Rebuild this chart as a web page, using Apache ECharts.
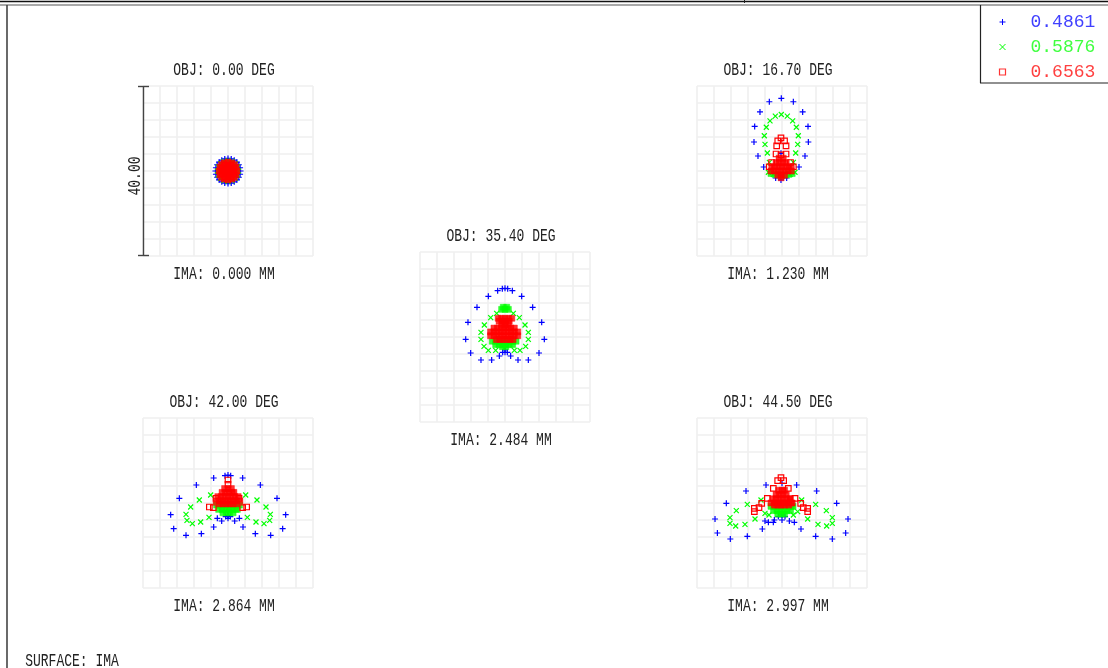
<!DOCTYPE html>
<html><head><meta charset="utf-8">
<style>html,body{margin:0;padding:0;background:#fff}#c{width:1108px;height:668px}</style>
<script src="https://cdn.jsdelivr.net/npm/echarts@6/dist/echarts.min.js"></script>
</head><body><div id="c"></div>
<script>
const wavelengths=['0.4861','0.5876','0.6563'];
const objLabels=['OBJ: 0.00 DEG','OBJ: 16.70 DEG','OBJ: 35.40 DEG','OBJ: 42.00 DEG','OBJ: 44.50 DEG'];
const imaLabels=['IMA: 0.000 MM','IMA: 1.230 MM','IMA: 2.484 MM','IMA: 2.864 MM','IMA: 2.997 MM'];
const scaleLabel='40.00', surfaceLabel='SURFACE: IMA';

const blue0=[[2.95,0],[2.85,.76],[2.55,1.47],[2.08,2.08],[1.47,2.55],[.76,2.85],[0,2.95],[-.76,2.85],[-1.47,2.55],[-2.08,2.08],[-2.55,1.47],[-2.85,.76],[-2.95,0],[-2.85,-.76],[-2.55,-1.47],[-2.08,-2.08],[-1.47,-2.55],[-.76,-2.85],[0,-2.95],[.76,-2.85],[1.47,-2.55],[2.08,-2.08],[2.55,-1.47],[2.85,-.76]];
const green0=[[2.45,0],[2.26,.94],[1.73,1.73],[.94,2.26],[0,2.45],[-.94,2.26],[-1.73,1.73],[-2.26,.94],[-2.45,0],[-2.26,-.94],[-1.73,-1.73],[-.94,-2.26],[0,-2.45],[.94,-2.26],[1.73,-1.73],[2.26,-.94]];
const red0=[];
const greenDense0=[];
const redDense0=[[0,0],[.7,0],[-.7,0],[0,.7],[0,-.7],[.7,.7],[-.7,.7],[.7,-.7],[-.7,-.7],[1.4,0],[-1.4,0],[0,1.4],[0,-1.4],[1.4,.7],[-1.4,.7],[1.4,-.7],[-1.4,-.7],[.7,1.4],[-.7,1.4],[.7,-1.4],[-.7,-1.4],[2.1,0],[-2.1,0],[0,2.1],[0,-2.1],[1.9,.9],[-1.9,.9],[1.9,-.9],[-1.9,-.9],[.9,1.9],[-.9,1.9],[.9,-1.9],[-.9,-1.9],[1.5,1.5],[-1.5,1.5],[1.5,-1.5],[-1.5,-1.5]];

const blue1=[[-2.98,16.3],[-.16,17.1],[2.67,16.3],[-5.18,13.9],[4.86,13.9],[-6.43,10.5],[6.12,10.5],[-6.59,6.82],[6.2,6.82],[-5.65,3.53],[5.41,3.53],[-4.31,.94],[4,.94],[-.24,4.16],[-.24,-2.1],[-1.49,-1.65],[1.1,-1.65]];
const green1=[[-.16,13.3],[-1.57,12.9],[1.25,12.9],[-2.82,11.8],[2.51,11.8],[-3.69,10.3],[3.37,10.3],[-4.16,8.3],[3.84,8.3],[-4,6.27],[3.69,6.27],[-3.45,4.24],[3.22,4.24],[-2.98,2.04],[2.67,2.04],[-3.2,-.3],[3.06,-.3],[-2.04,-.78],[1.88,-.78],[-.16,-1.1]];
const greenDense1=[[-2.6,-.6],[-1.6,-.8],[-.8,-.9],[0,-1],[.8,-.9],[1.6,-.8],[2.4,-.6]];
const red1=[[-.24,7.8],[-1,7.1],[.6,7.1],[-1.25,5.9],[.95,5.9],[-1.4,4],[.95,4],[-.24,3.8],[-2.45,2],[2,2],[-3,1],[2.67,1]];
const redDense1=[[-2.4,1],[-1.6,1],[-.8,1],[0,1],[.8,1],[1.6,1],[2.2,1],[-2.6,0],[-1.8,0],[-1,0],[-.2,0],[.6,0],[1.4,0],[2.2,0],[-1,-1],[-.2,-1],[.6,-1],[-.2,-1.6],[-1.4,2],[-.6,2],[.2,2],[1,2],[-.7,3],[.3,3]];

const blue2=[[0,11.45],[-.63,11.37],[.63,11.37],[-1.73,10.9],[1.73,10.9],[-3.92,9.57],[3.92,9.57],[-6.59,6.98],[6.51,6.98],[-8.71,3.45],[8.63,3.45],[-9.25,-.55],[9.25,-.55],[-8.08,-3.76],[8,-3.76],[-5.65,-5.41],[-3.14,-5.41],[3.06,-5.41],[5.49,-5.41],[-1.33,-4.47],[1.33,-4.47],[0,-2.27],[0,-3.06],[-.55,-3.6],[.55,-3.6],[0,-3.6]];
const green2=[[-1.96,5.57],[1.96,5.57],[-3.37,4.55],[3.37,4.55],[-4.86,2.82],[4.71,2.82],[-5.65,1.1],[5.49,1.1],[-5.65,-.55],[5.49,-.55],[-4.94,-2.2],[4.86,-2.2],[-3.92,-3.14],[-2.2,-3.14],[2.2,-3.14],[3.53,-3.14]];
const greenDense2=[[-.8,6.5],[0,6.5],[.8,6.5],[-.4,7],[.4,7],[-3,-1],[-2.2,-1],[-1.4,-1],[-.6,-1],[.2,-1],[1,-1],[1.8,-1],[2.6,-1],[-2.2,-1.8],[-1.4,-1.8],[-.6,-1.8],[.2,-1.8],[1,-1.8],[1.8,-1.8],[-.6,-2.3],[.2,-2.3]];
const red2=[];
const redDense2=[[-1.6,4.4],[-.8,4.4],[0,4.4],[.8,4.4],[1.6,4.4],[-1.4,3.7],[-.6,3.7],[.2,3.7],[1,3.7],[-.8,2.9],[0,2.9],[.8,2.9],[-2.6,2.1],[-1.8,2.1],[-1,2.1],[-.2,2.1],[.6,2.1],[1.4,2.1],[2.2,2.1],[-3.4,1.2],[-2.6,1.2],[-1.8,1.2],[-1,1.2],[-.2,1.2],[.6,1.2],[1.4,1.2],[2.2,1.2],[3,1.2],[-3.4,.3],[-2.6,.3],[-1.8,.3],[-1,.3],[-.2,.3],[.6,.3],[1.4,.3],[2.2,.3],[3,.3],[-2,-.6],[-1.2,-.6],[-.4,-.6],[.4,-.6],[1.2,-.6],[1.9,-.6]];

const blue3=[[0,6.59],[-.71,6.43],[.63,6.43],[-3.37,5.88],[3.45,5.88],[-7.45,4.24],[7.61,4.24],[-11.45,1.1],[11.53,1.1],[-13.49,-2.75],[13.57,-2.75],[-12.78,-6.04],[12.86,-6.04],[-9.88,-7.61],[-6.27,-7.22],[6.43,-7.22],[10.04,-7.61],[-3.37,-5.65],[3.53,-5.65],[-2.51,-3.61],[-1.49,-4.24],[0,-2.98],[1.57,-4.24],[2.67,-3.61],[0,-3.6],[-.55,-3.2],[.55,-3.2]];
const green3=[[-6.75,.71],[-4.08,1.88],[4.16,1.88],[6.82,.71],[-8.78,-.94],[8.94,-.94],[-9.88,-2.67],[9.96,-2.67],[-9.65,-4.08],[9.8,-4.08],[-8.39,-4.86],[8.47,-4.86],[-6.43,-4.47],[6.59,-4.47],[-4.47,-3.37],[4.55,-3.37]];
const greenDense3=[[-2.7,-.5],[-1.9,-.5],[-1.1,-.5],[-.3,-.5],[.5,-.5],[1.3,-.5],[2.1,-.5],[2.7,-.5],[-2.2,-1.5],[-1.4,-1.5],[-.6,-1.5],[.2,-1.5],[1,-1.5],[1.8,-1.5],[2.2,-1.5],[-1.2,-2.3],[-.4,-2.3],[.4,-2.3],[1.2,-2.3]];
const red3=[[0,5.41],[0,4.39],[-4.39,-.94],[-3.45,-1.1],[4.39,-.94],[3.45,-1.1],[2.59,1.1],[-2.82,1.1]];
const redDense3=[[-.8,3.4],[0,3.4],[.8,3.4],[-1.4,2.5],[-.6,2.5],[.2,2.5],[1,2.5],[1.4,2.5],[-2.4,1.5],[-1.6,1.5],[-.8,1.5],[0,1.5],[.8,1.5],[1.6,1.5],[2.4,1.5],[-2.8,.5],[-2,.5],[-1.2,.5],[-.4,.5],[.4,.5],[1.2,.5],[2,.5],[2.8,.5],[-2,-.2],[-1.2,-.2],[-.4,-.2],[.4,-.2],[1.2,-.2],[2,-.2]];

const blue4=[[-3.76,4.24],[3.45,4.24],[0,4.63],[-8.47,2.82],[8.16,2.82],[-13.1,-.08],[12.86,-.08],[-15.76,-3.76],[15.53,-3.76],[-15.2,-7.06],[14.98,-7.06],[-12.16,-8.47],[-8.16,-7.84],[7.92,-7.84],[11.84,-8.47],[-4.63,-6.12],[4.47,-6.12],[-4,-4.24],[-3.2,-4.55],[-2.04,-4.55],[-1.8,-4],[1.73,-4.24],[2.9,-4.55],[0,-2.82],[-.86,-3.2],[.71,-3.2],[0,-4]];
const green4=[[-8.16,-.31],[7.92,-.31],[-4.94,.71],[4.63,.71],[-10.75,-1.8],[10.43,-1.8],[-12.24,-3.45],[11.84,-3.45],[-12.24,-4.78],[11.84,-4.78],[-10.9,-5.41],[10.51,-5.41],[-8.71,-5.02],[8.47,-5.02],[-6.35,-3.76],[6.04,-3.76],[-4,-2.43],[-3.06,-2.82],[2.67,-2.82],[3.69,-2.04]];
const greenDense4=[[-2.6,-.8],[-1.8,-.8],[-1,-.8],[-.2,-.8],[.6,-.8],[1.4,-.8],[2.2,-.8],[2.6,-.8],[-2,-1.8],[-1.2,-1.8],[-.4,-1.8],[.4,-1.8],[1.2,-1.8],[2,-1.8],[-1,-2.6],[-.2,-2.6],[.6,-2.6]];
const red4=[[-.24,5.96],[-1.02,5.25],[.39,5.25],[-2.04,3.45],[1.49,3.45],[-3.45,1.1],[3.06,1.1],[-4.78,-.08],[4.39,-.08],[-5.41,-1.1],[5.02,-1.1],[-6.51,-1.25],[6.04,-1.25],[-6.51,-2.04],[6.04,-2.04]];
const redDense4=[[-.8,3],[0,3],[.6,3],[-1.4,2],[-.6,2],[.2,2],[1,2],[-2.2,1],[-1.4,1],[-.6,1],[.2,1],[1,1],[1.8,1],[2,1],[-2.6,0],[-1.8,0],[-1,0],[-.2,0],[.6,0],[1.4,0],[2.2,0],[2.4,0],[-1.8,-.5],[-1,-.5],[-.2,-.5],[.6,-.5],[1.6,-.5]];

const fields=[
 {blue:blue0,green:green0,greenDense:greenDense0,red:red0,redDense:redDense0},
 {blue:blue1,green:green1,greenDense:greenDense1,red:red1,redDense:redDense1},
 {blue:blue2,green:green2,greenDense:greenDense2,red:red2,redDense:redDense2},
 {blue:blue3,green:green3,greenDense:greenDense3,red:red3,redDense:redDense3},
 {blue:blue4,green:green4,greenDense:greenDense4,red:red4,redDense:redDense4}];
const boxes=[[143,86],[697,86],[420,252],[143,418],[697,418]];
const box=170;
const BLUE='#0000ff',GREEN='#00ff00',RED='#ff0000',INK='#222222';
const plus='path://M0 5H10M5 0V10', cross='path://M0 0L10 10M0 10L10 0';
const font='"Liberation Mono"';

const grid=[],xAxis=[],yAxis=[],series=[],graphic=[];
const axisCommon={type:'value',min:-20,max:20,interval:4,axisLine:{show:false},axisTick:{show:false},axisLabel:{show:false},
  splitLine:{show:true,lineStyle:{color:'#efefef',width:1.6}}};
function line(x1,y1,x2,y2,color,w){graphic.push({type:'line',silent:true,z:20,shape:{x1,y1,x2,y2},style:{stroke:color,lineWidth:w}});}
function text(str,cx,cy,size,sy,color,rot){graphic.push({type:'text',silent:true,z:20,x:cx,y:cy,scaleY:sy,rotation:rot||0,
  style:{text:str,font:size+'px '+font,fill:color||INK,align:'center',verticalAlign:'middle'}});}

fields.forEach((f,i)=>{
  const [l,t]=boxes[i];
  grid.push({left:l,top:t,width:box,height:box});
  xAxis.push({...axisCommon,gridIndex:i});
  yAxis.push({...axisCommon,gridIndex:i});
  const add=(name,data,symbol,size,color,filled,z)=>{ if(!data.length) return;
    series.push({type:'scatter',name,xAxisIndex:i,yAxisIndex:i,data,symbol,symbolSize:size,z,silent:true,
      itemStyle:filled?{color:color,borderColor:color,borderWidth:0.5}:{color:'none',borderColor:color,borderWidth:1.2,opacity:1},emphasis:{disabled:true},animation:false});};
  add(wavelengths[0],f.blue,plus,6,BLUE,false,3);
  add(wavelengths[1],f.greenDense,'rect',6,GREEN,true,4);
  add(wavelengths[1],f.green,cross,5,GREEN,false,4);
  add(wavelengths[2],f.redDense,'rect',6,RED,true,5);
  add(wavelengths[2],f.red,'rect',5.5,RED,false,5);
  text(objLabels[i],l+81,t-16,13,1.45);
  text(imaLabels[i],l+81,t+188,13,1.45);
});
// scale bar
line(143.5,86,143.5,256,'#444',1.4);
line(138,86.5,149,86.5,'#444',1.4);
line(138,255.5,149,255.5,'#444',1.4);
text(scaleLabel,135,176,13,1.45,INK,Math.PI/2);
text(surfaceLabel,72,661,13,1.45);
// frame
line(0,1.5,1108,1.5,'#111',1.6);
line(0,5,1108,5,'#555',1.2);
line(744.5,0,744.5,3,'#222',1);
line(7,5,7,668,'#444',1.6);
line(980.5,5,980.5,83,'#222',1.2);
line(980,83,1108,83,'#222',1.2);

const chart=echarts.init(document.getElementById('c'),null,{renderer:'canvas'});
chart.setOption({animation:false,backgroundColor:'#fff',grid,xAxis,yAxis,series,graphic,
  legend:{orient:'vertical',left:992,top:7,itemWidth:6,itemHeight:6,itemGap:5,selectedMode:false,
    textStyle:{fontFamily:font,fontSize:18,padding:[0,0,0,20],lineHeight:20,height:20},
    data:[{name:wavelengths[0],icon:plus,itemStyle:{color:'none',borderColor:BLUE,borderWidth:1},textStyle:{color:'#4040ff'}},
          {name:wavelengths[1],icon:cross,itemStyle:{color:'none',borderColor:GREEN,borderWidth:1},textStyle:{color:'#40ff40'}},
          {name:wavelengths[2],icon:'rect',itemStyle:{color:'none',borderColor:RED,borderWidth:1.2},textStyle:{color:'#ff4040'}}]}
});
</script></body></html>
